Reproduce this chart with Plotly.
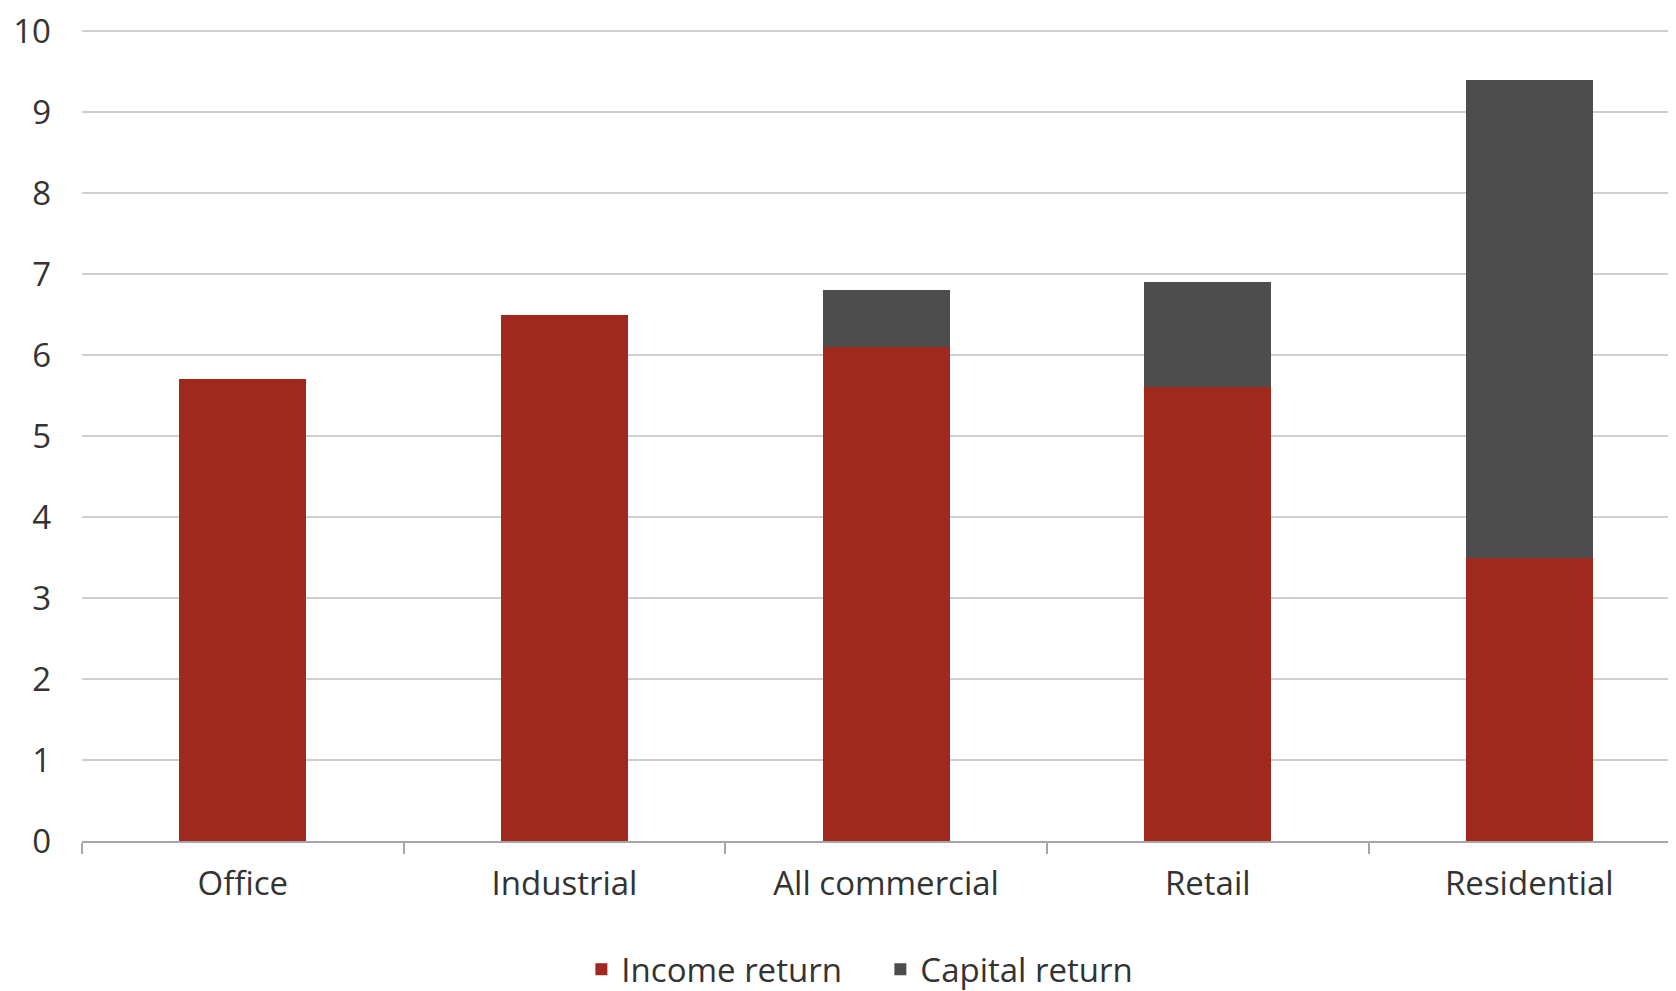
import plotly.graph_objects as go

categories = ["Office", "Industrial", "All commercial", "Retail", "Residential"]
income_return = [5.7, 6.5, 6.1, 5.6, 3.5]
capital_return = [0.0, 0.0, 0.7, 1.3, 5.9]
y_ticks = [0, 1, 2, 3, 4, 5, 6, 7, 8, 9, 10]

RED = "#A0291E"
GREY = "#4D4D4D"
TEXT = "#333333"
FONT = "Open Sans"

fig = go.Figure()
fig.add_trace(go.Bar(x=categories, y=income_return, name="Income return",
                     marker=dict(color=RED, line=dict(width=0))))
fig.add_trace(go.Bar(x=categories, y=capital_return, name="Capital return",
                     marker=dict(color=GREY, line=dict(width=0))))

# page body has an 8px margin, so the figure is sized/offset to compensate
fig.update_layout(
    width=1668, height=983,
    barmode="stack", bargap=0.605,
    plot_bgcolor="white", paper_bgcolor="white",
    margin=dict(l=74, r=0, t=17, b=150),
    font=dict(family=FONT, size=33, color=TEXT),
    showlegend=True,
    legend=dict(orientation="h", xref="container", x=0.523, xanchor="center",
                yref="container", y=0.022, yanchor="middle",
                font=dict(family=FONT, size=33, color=TEXT),
                itemwidth=30, entrywidth=254, entrywidthmode="pixels",
                tracegroupgap=0, traceorder="normal"),
    xaxis=dict(range=[-0.5, 4.456], showgrid=False, showline=True,
               linecolor="#a6a6a6", linewidth=2, ticks="outside",
               tickson="boundaries", ticklen=11, tickcolor="#a6a6a6", tickwidth=2,
               ticklabelstandoff=12,
               tickfont=dict(family=FONT, size=33, color=TEXT), fixedrange=True),
    yaxis=dict(range=[0, 10.025], tickvals=y_ticks, showgrid=True, gridcolor="#cfcfcf",
               gridwidth=2, zeroline=False, showline=False, ticks="",
               ticklabelstandoff=30, ticklabeloverflow="allow",
               tickfont=dict(family=FONT, size=33, color=TEXT), fixedrange=True),
)

fig.write_html("out.html")
